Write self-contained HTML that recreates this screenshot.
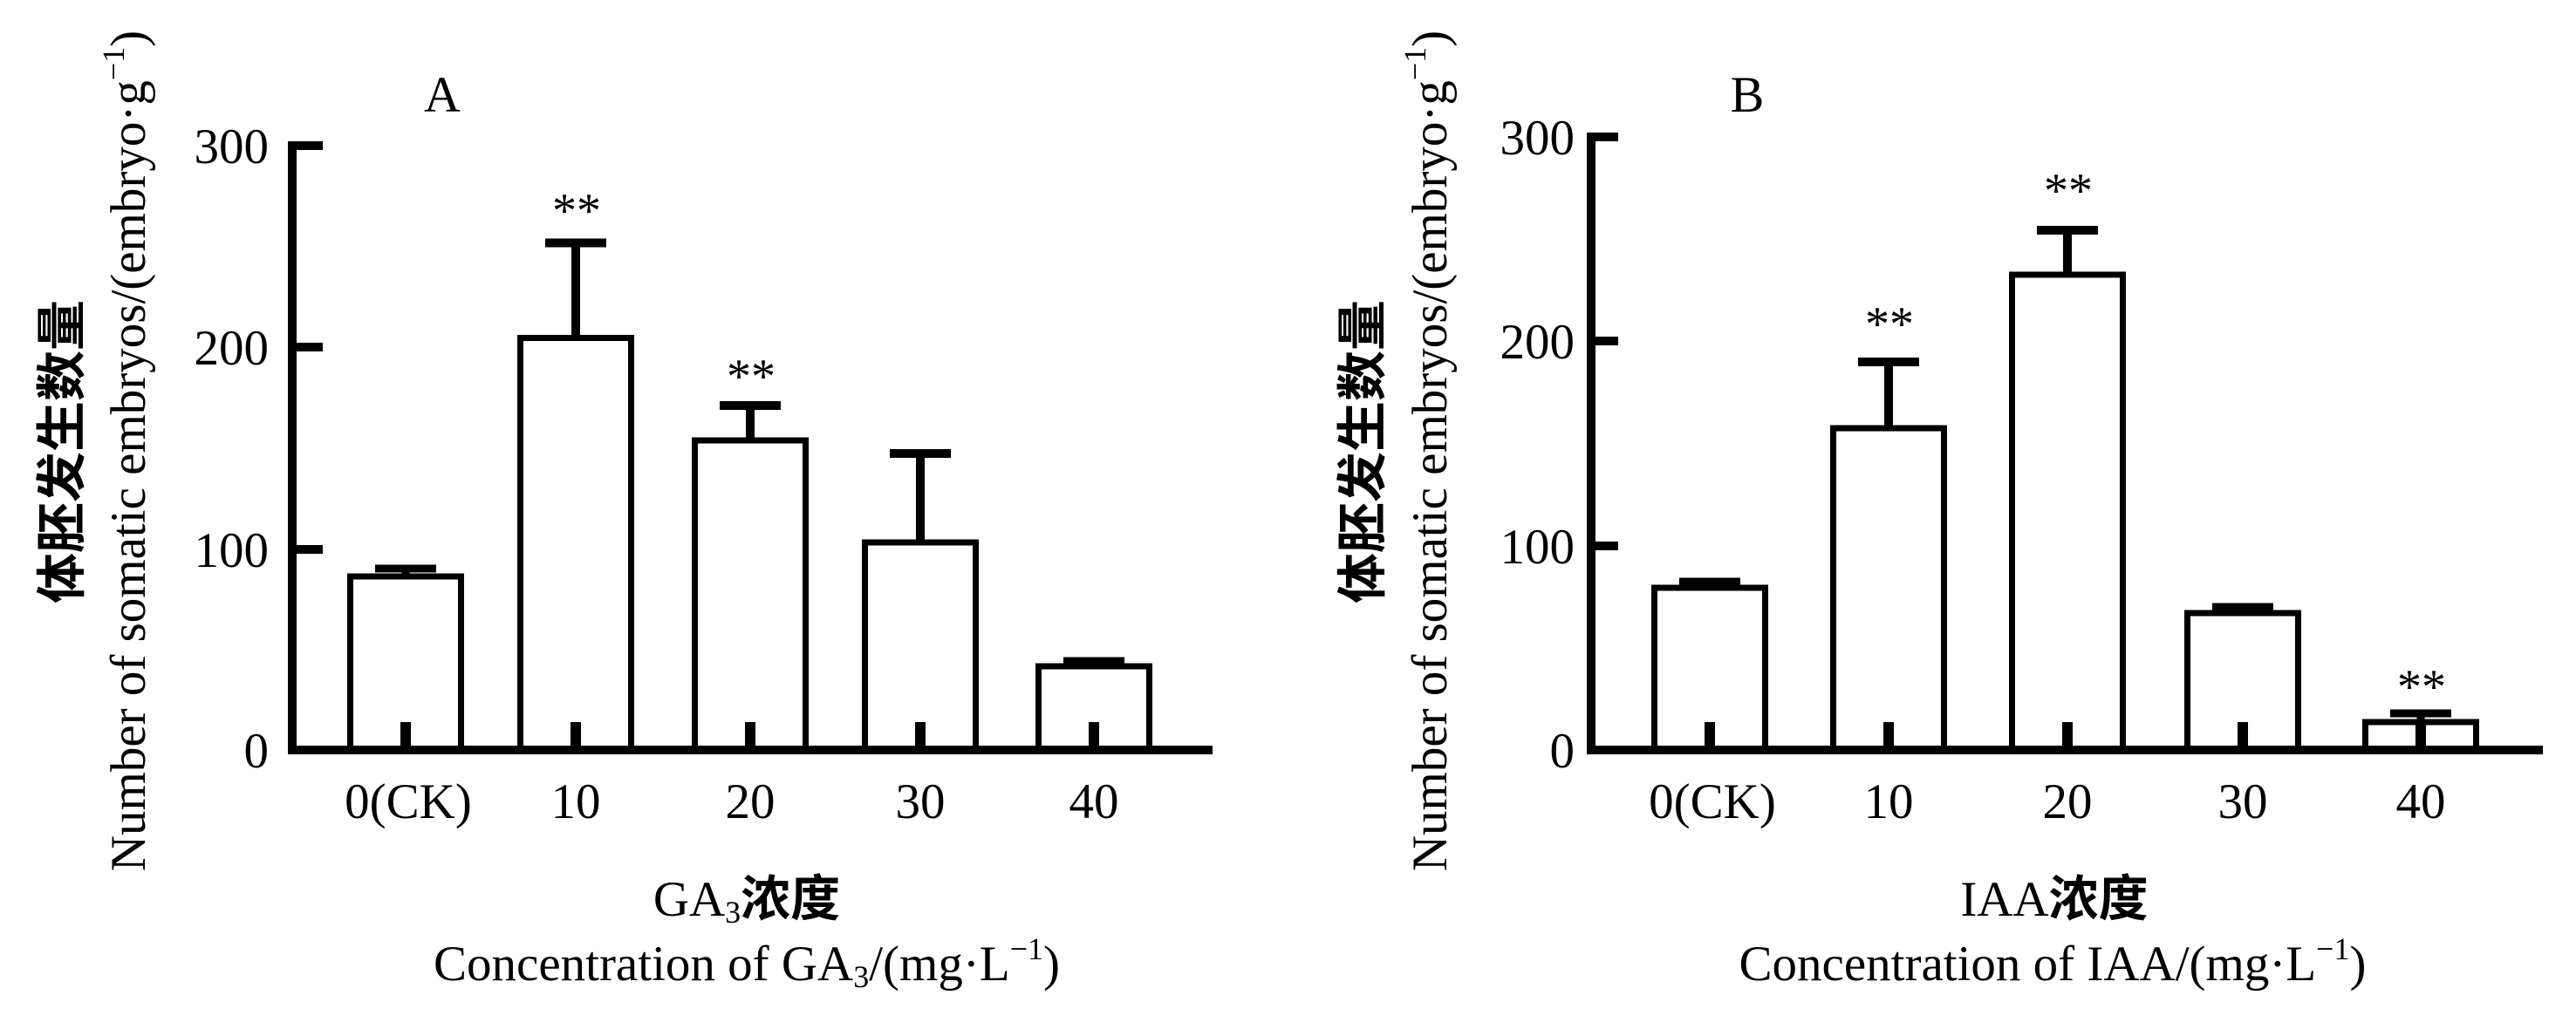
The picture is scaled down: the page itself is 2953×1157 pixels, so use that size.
<!DOCTYPE html>
<html><head><meta charset="utf-8"><style>
html,body{margin:0;padding:0;background:#fff;}
svg{display:block;}
text{font-family:"Liberation Serif","Noto Serif CJK SC",serif;fill:#000;}
.cjk{font-family:"Noto Sans CJK SC","WenQuanYi Zen Hei",sans-serif;font-weight:bold;}
</style></head><body>
<svg width="2953" height="1157" viewBox="0 0 2953 1157" xmlns="http://www.w3.org/2000/svg">
<g stroke="#000" fill="none">
<!-- Panel A axes -->
<line x1="335" y1="162" x2="335" y2="865" stroke-width="10"/>
<line x1="330" y1="860" x2="1390" y2="860" stroke-width="10"/>
<line x1="335" y1="167" x2="370" y2="167" stroke-width="10"/>
<line x1="335" y1="398" x2="370" y2="398" stroke-width="10"/>
<line x1="335" y1="630" x2="370" y2="630" stroke-width="10"/>
<!-- Panel A bars -->
<path d="M401.5 860V661H528.5V860" stroke-width="7"/>
<path d="M596.5 860V387.5H723.5V860" stroke-width="7"/>
<path d="M796.5 860V505H923.5V860" stroke-width="7"/>
<path d="M991.5 860V622H1118.5V860" stroke-width="7"/>
<path d="M1190.5 860V764H1317.5V860" stroke-width="7"/>
<!-- A error bars -->
<path d="M465 661V652M430 652H500" stroke-width="9"/>
<path d="M660 387V278.5M625 278.5H695" stroke-width="10"/>
<path d="M860 505V465M825 465H895" stroke-width="10"/>
<path d="M1055 622V520M1020 520H1090" stroke-width="10"/>
<path d="M1254 764V758M1219 758H1289" stroke-width="9"/>
<!-- A inner ticks -->
<path d="M465 828V860M660 828V860M860 828V860M1055 828V860M1254 828V860" stroke-width="12"/>

<!-- Panel B axes -->
<line x1="1824" y1="152" x2="1824" y2="865" stroke-width="10"/>
<line x1="1819" y1="860" x2="2915" y2="860" stroke-width="10"/>
<line x1="1824" y1="157" x2="1855" y2="157" stroke-width="10"/>
<line x1="1824" y1="391" x2="1855" y2="391" stroke-width="10"/>
<line x1="1824" y1="626" x2="1855" y2="626" stroke-width="10"/>
<!-- B bars -->
<path d="M1896.5 860V674H2023.5V860" stroke-width="7"/>
<path d="M2101.5 860V491H2228.5V860" stroke-width="7"/>
<path d="M2306.5 860V315H2433.5V860" stroke-width="7"/>
<path d="M2507.5 860V703H2634.5V860" stroke-width="7"/>
<path d="M2711.5 860V828H2838.5V860" stroke-width="7"/>
<!-- B error bars -->
<path d="M1960 674V667M1925 667H1995" stroke-width="9"/>
<path d="M2165 491V415M2130 415H2200" stroke-width="10"/>
<path d="M2370 315V264M2335 264H2405" stroke-width="10"/>
<path d="M2571 703V696M2536 696H2606" stroke-width="9"/>
<path d="M2775 828V818M2740 818H2810" stroke-width="9"/>
<path d="M1960 828V860M2165 828V860M2370 828V860M2571 828V860M2775 828V860" stroke-width="12"/>
</g>

<!-- Panel A text -->
<text x="507" y="128" font-size="58" text-anchor="middle">A</text>
<g font-size="57" text-anchor="end">
<text x="308" y="187">300</text>
<text x="308" y="418">200</text>
<text x="308" y="650">100</text>
<text x="308" y="880">0</text>
</g>
<g font-size="57" text-anchor="middle">
<text x="468" y="938">0(CK)</text>
<text x="660" y="938">10</text>
<text x="860" y="938">20</text>
<text x="1055" y="938">30</text>
<text x="1254" y="938">40</text>
</g>
<g font-size="56" text-anchor="middle">
<text x="661" y="260">**</text>
<text x="861" y="450">**</text>
</g>
<text x="856" y="1050" font-size="57" text-anchor="middle">GA<tspan font-size="36" dy="8">3</tspan><tspan class="cjk" dy="-8">浓度</tspan></text>
<text x="856" y="1124" font-size="57" text-anchor="middle">Concentration of GA<tspan font-size="36" dy="8">3</tspan><tspan dy="-8">/(mg·L</tspan><tspan font-size="36" dy="-24">−1</tspan><tspan dy="24">)</tspan></text>
<text class="cjk" transform="translate(91,518) rotate(-90)" font-size="58" text-anchor="middle">体胚发生数量</text>
<text transform="translate(166,517) rotate(-90)" font-size="57" text-anchor="middle">Number of somatic embryos/(embryo·g<tspan font-size="36" dy="-24">−1</tspan><tspan dy="24">)</tspan></text>

<!-- Panel B text -->
<text x="2003" y="128" font-size="58" text-anchor="middle">B</text>
<g font-size="57" text-anchor="end">
<text x="1805" y="177">300</text>
<text x="1805" y="411">200</text>
<text x="1805" y="646">100</text>
<text x="1805" y="880">0</text>
</g>
<g font-size="57" text-anchor="middle">
<text x="1963" y="938">0(CK)</text>
<text x="2165" y="938">10</text>
<text x="2370" y="938">20</text>
<text x="2571" y="938">30</text>
<text x="2775" y="938">40</text>
</g>
<g font-size="56" text-anchor="middle">
<text x="2166" y="390">**</text>
<text x="2371" y="237">**</text>
<text x="2776" y="806">**</text>
</g>
<text x="2355" y="1050" font-size="57" text-anchor="middle">IAA<tspan class="cjk">浓度</tspan></text>
<text x="2353" y="1124" font-size="57" text-anchor="middle">Concentration of IAA/(mg·L<tspan font-size="36" dy="-24">−1</tspan><tspan dy="24">)</tspan></text>
<text class="cjk" transform="translate(1582,518) rotate(-90)" font-size="58" text-anchor="middle">体胚发生数量</text>
<text transform="translate(1658,517) rotate(-90)" font-size="57" text-anchor="middle">Number of somatic embryos/(embryo·g<tspan font-size="36" dy="-24">−1</tspan><tspan dy="24">)</tspan></text>
</svg>
</body></html>
